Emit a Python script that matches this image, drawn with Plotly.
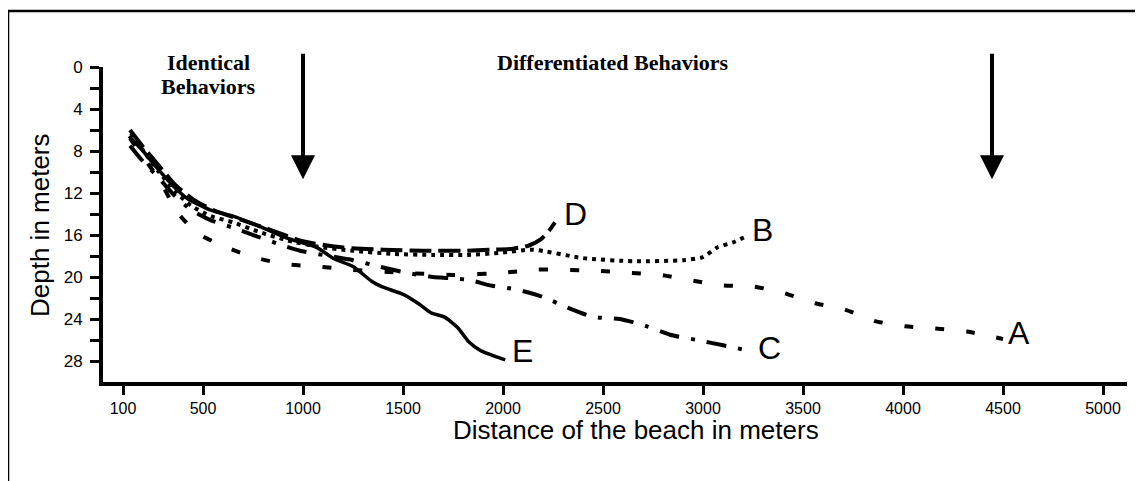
import plotly.graph_objects as go

# ---- data ----
dist_A = [135, 210, 290, 370, 470, 620, 770, 920, 1075, 1235, 1500, 1750, 2000, 2170, 2470, 2635, 2785, 2935, 3100, 3250, 3400, 3560, 3710, 3860, 4010, 4160, 4320, 4500]
depth_A = [6.8, 8.8, 11.0, 13.8, 15.8, 17.2, 18.2, 18.8, 19.0, 19.3, 19.6, 19.8, 19.6, 19.3, 19.4, 19.6, 19.8, 20.3, 20.8, 20.9, 21.5, 22.5, 23.1, 24.2, 24.7, 24.9, 25.2, 25.9]

dist_B = [140, 210, 280, 360, 440, 540, 650, 780, 920, 1070, 1250, 1450, 1650, 1820, 1985, 2150, 2400, 2650, 2900, 3000, 3070, 3150, 3220]
depth_B = [6.3, 8.2, 10.0, 11.8, 13.2, 14.2, 14.8, 15.7, 16.5, 17.1, 17.5, 17.8, 17.9, 17.9, 17.7, 17.4, 18.2, 18.5, 18.4, 18.1, 17.2, 16.7, 16.1]

dist_C = [135, 200, 280, 360, 440, 540, 650, 780, 900, 985, 1100, 1250, 1380, 1520, 1650, 1735, 1835, 1935, 2070, 2200, 2320, 2450, 2585, 2720, 2835, 2970, 3100, 3225]
depth_C = [7.5, 9.0, 10.6, 12.3, 13.6, 14.6, 15.3, 16.2, 17.0, 17.5, 17.9, 18.4, 19.0, 19.6, 20.0, 20.1, 20.3, 20.8, 21.2, 21.9, 22.9, 23.8, 24.0, 24.7, 25.5, 26.0, 26.5, 27.0]

dist_D = [135, 200, 280, 360, 450, 560, 700, 850, 1000, 1200, 1400, 1600, 1800, 1950, 2050, 2130, 2190, 2230, 2260]
depth_D = [6.0, 7.6, 9.4, 11.2, 12.6, 13.7, 14.6, 15.6, 16.6, 17.2, 17.4, 17.5, 17.5, 17.4, 17.3, 17.0, 16.4, 15.6, 14.8]

dist_E = [130, 200, 270, 350, 420, 535, 650, 785, 920, 1070, 1150, 1250, 1343, 1391, 1506, 1582, 1639, 1706, 1773, 1830, 1887, 2011]
depth_E = [6.6, 8.0, 9.6, 11.3, 12.5, 13.6, 14.2, 15.2, 16.3, 17.2, 18.2, 19.0, 20.4, 20.9, 21.7, 22.6, 23.4, 23.8, 24.8, 26.2, 27.0, 27.9]

x_ticks = [100, 500, 1000, 1500, 2000, 2500, 3000, 3500, 4000, 4500, 5000]
y_ticks = list(range(0, 30, 2))
y_ticktext = [str(v) if v % 4 == 0 else "" for v in y_ticks]

arrow_dist = [1000, 4445]

series = [
    ("A", dist_A, depth_A, "9px,22px", 4, 3),
    ("B", dist_B, depth_B, "4px,5px", 4, 3),
    ("C", dist_C, depth_C, "20px,12px,4px,12px", 4, 8),
    ("D", dist_D, depth_D, "22px,7px", 4, 7),
    ("E", dist_E, depth_E, "solid", 3.5, 5),
]
label_yshift = {"A": 6, "B": 6, "C": 3, "D": 8, "E": 9}

SANS = "Liberation Sans, Arial, sans-serif"
SERIF = "Liberation Serif, Times New Roman, serif"

# The page body adds an 8px margin; layout positions below are in window pixels.
OFF = 8
FIG_W, FIG_H = 1143 - OFF, 481 - OFF
L, T, W, H = 103 - OFF, 67 - OFF, 1024, 315


def px(xp):
    return (xp - OFF - L) / W


def py(yp):
    return (T + H - (yp - OFF)) / H


fig = go.Figure()
for name, xs, ys, dash, w, xs_shift in series:
    fig.add_trace(go.Scatter(
        x=xs, y=ys, mode="lines", name=name,
        line=dict(color="black", width=w, dash=dash, shape="spline", smoothing=0.6),
        showlegend=False, hoverinfo="skip",
    ))
    fig.add_annotation(
        x=xs[-1], y=ys[-1], xref="x", yref="y", text=name, showarrow=False,
        xanchor="left", yanchor="middle", xshift=xs_shift, yshift=label_yshift[name],
        font=dict(family=SANS, size=32, color="black"),
    )

for d in arrow_dist:
    fig.add_annotation(
        x=d, y=10.7, xref="x", yref="y", text="", showarrow=True,
        ax=0, ay=-127, arrowhead=2, arrowsize=1.2, arrowwidth=4, arrowcolor="black",
        standoff=0,
    )

for txt, cx, cy in [("Identical", 208, 62), ("Behaviors", 208, 86), ("Differentiated Behaviors", 613, 62)]:
    fig.add_annotation(x=px(cx), y=py(cy), xref="paper", yref="paper", text="<b>%s</b>" % txt,
                       showarrow=False, xanchor="center", yanchor="middle",
                       font=dict(family=SERIF, size=22, color="black"))

# axis titles
fig.add_annotation(x=px(636), y=py(430), xref="paper", yref="paper",
                   text="Distance of the beach in meters", showarrow=False,
                   xanchor="center", yanchor="middle",
                   font=dict(family=SANS, size=26, color="black"))
fig.add_annotation(x=px(40), y=py(225), xref="paper", yref="paper",
                   text="Depth in meters", showarrow=False, textangle=-90,
                   xanchor="center", yanchor="middle",
                   font=dict(family=SANS, size=26, color="black"))

# outer frame
fig.add_shape(type="rect", xref="paper", yref="paper",
              x0=px(8), x1=px(1141), y0=py(520), y1=py(11),
              line=dict(color="black", width=2.5), fillcolor="rgba(0,0,0,0)")

fig.update_layout(
    width=FIG_W, height=FIG_H,
    margin=dict(l=L, r=FIG_W - L - W, t=T, b=FIG_H - T - H, autoexpand=False),
    paper_bgcolor="white", plot_bgcolor="white",
    font=dict(family=SANS, color="black"),
)
fig.update_xaxes(
    range=[0, 5120], tickmode="array", tickvals=x_ticks, ticktext=[str(v) for v in x_ticks],
    showgrid=False, zeroline=False, showline=True, linecolor="black", linewidth=4,
    ticks="outside", ticklen=9, tickwidth=3, tickcolor="black",
    tickfont=dict(family=SANS, size=16, color="black"), ticklabelstandoff=0,
)
fig.update_yaxes(
    range=[30, 0], tickmode="array", tickvals=y_ticks, ticktext=y_ticktext,
    showgrid=False, zeroline=False, showline=True, linecolor="black", linewidth=4,
    ticks="outside", ticklen=9, tickwidth=3, tickcolor="black",
    tickfont=dict(family=SANS, size=17, color="black"), ticklabelstandoff=4,
)

fig.write_html("out.html")
